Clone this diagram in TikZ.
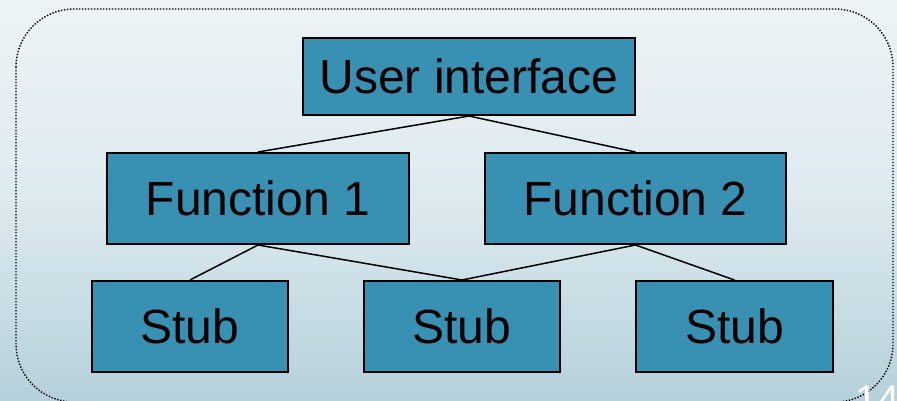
\documentclass[tikz,border=0pt]{standalone}
\usepackage{fontspec}
\setmainfont{Liberation Sans}
\definecolor{boxfill}{HTML}{3890B2}
\definecolor{bgA}{HTML}{8AB5C6}
\definecolor{bgB}{HTML}{B5D0DB}
\definecolor{bgC}{HTML}{DDEAEF}
\definecolor{bgD}{HTML}{EDF3F6}
\definecolor{bgE}{HTML}{F5F8FA}
\pgfdeclareverticalshading{bgshade}{100bp}{color(0bp)=(bgA); color(25bp)=(bgB); color(50bp)=(bgC); color(75bp)=(bgD); color(100bp)=(bgE)}
\begin{document}
\begin{tikzpicture}[x=1pt,y=-1pt,
  blk/.style={draw=black, line width=2pt, fill=boxfill, inner sep=0pt,
    font=\fontsize{48}{52}\selectfont, text=black},
  link/.style={draw=black, line width=1.5pt},
  frame/.style={draw=black, line width=1.4pt, dash pattern=on 1.4pt off 1.6pt, rounded corners=58pt}]
\useasboundingbox (0,0) rectangle (897,401);
\shade[shading=bgshade] (0,0) rectangle (897,401);
\draw[frame] (16,9) rectangle (893,402);
\node[blk, minimum width=332pt, minimum height=77pt] (ui) at (469,76.5) {User interface};
\node[blk, minimum width=302pt, minimum height=91pt] (f1) at (258,198.5) {Function 1};
\node[blk, minimum width=301pt, minimum height=91pt] (f2) at (635.5,198.5) {Function 2};
\node[blk, minimum width=196pt, minimum height=91pt] (s1) at (190,326.5) {Stub};
\node[blk, minimum width=196pt, minimum height=91pt] (s2) at (462,326.5) {Stub};
\node[blk, minimum width=197pt, minimum height=91pt] (s3) at (734.5,326.5) {Stub};
\draw[link] (ui.south) -- (f1.north);
\draw[link] (ui.south) -- (f2.north);
\draw[link] (f1.south) -- (s1.north);
\draw[link] (f1.south) -- (s2.north);
\draw[link] (f2.south) -- (s2.north);
\draw[link] (f2.south) -- (s3.north);
\node[anchor=north west, inner sep=0pt, text=white, font=\fontsize{40}{44}\selectfont] (pg) at (855,386) {14};
\end{tikzpicture}
\end{document}
